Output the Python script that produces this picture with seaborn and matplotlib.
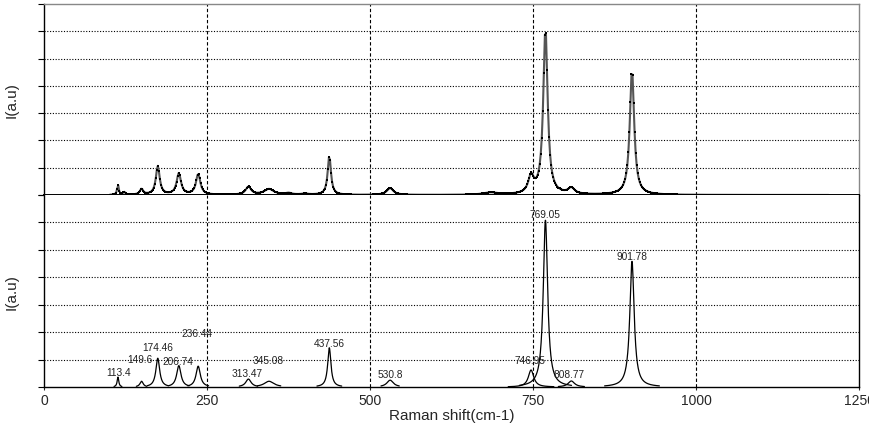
import numpy as np
import pandas as pd
import matplotlib
matplotlib.use("Agg")
import matplotlib.pyplot as plt
import seaborn as sns

# ---------------- data ----------------
peak_centers = [113.4, 149.6, 174.46, 206.74, 236.44, 313.47, 345.08,
                437.56, 530.8, 746.95, 769.05, 808.77, 901.78]
peak_heights = [0.36, 0.21, 1.05, 0.78, 0.76, 0.29, 0.21,
                1.43, 0.25, 0.62, 6.09, 0.22, 4.59]
peak_fwhm = [3, 6, 7, 8, 8, 10, 18, 6, 12, 10, 8, 12, 8]
peak_halfwindow = [6, 8, 16, 16, 16, 14, 18, 19, 14, 35, 40, 20, 42]
peak_labels = ["113.4", "149.6", "174.46", "206.74", "236.44", "313.47", "345.08",
               "437.56", "530.8", "746.95", "769.05", "808.77", "901.78"]
label_x = [114, 147, 175, 205, 235, 312, 344, 437, 531, 746, 769, 805, 902]
label_y = [0.56, 1.03, 1.45, 0.96, 1.98, 0.51, 1.00, 1.62, 0.47, 1.00, 6.31, 0.47, 4.77]

# minor features only seen in the measured spectrum
extra_centers = [123.0, 375.0, 400.0, 685.0]
extra_heights = [0.10, 0.06, 0.04, 0.08]
extra_fwhm = [4, 12, 12, 25]

spectrum_start, spectrum_end, spectrum_step = 101.0, 1204.0, 1.6

x_ticks = [0, 250, 500, 750, 1000, 1250]
x_label = "Raman shift(cm-1)"
y_label = "I(a.u)"


def lorentz(x, c, h, w):
    g = w / 2.0
    return h * g * g / ((x - c) ** 2 + g * g)


# ---------------- figure ----------------
sns.set_style("white")
plt.rcParams["font.family"] = ["Liberation Sans", "DejaVu Sans"]

fig = plt.figure(figsize=(8.7, 4.27), dpi=100)
ax1 = fig.add_axes([0.0506, 0.5410, 0.9368, 0.4473])
ax2 = fig.add_axes([0.0506, 0.0913, 0.9368, 0.4497])

# measured spectrum (top)
xs = np.arange(spectrum_start, spectrum_end, spectrum_step)
ys = np.zeros_like(xs)
for c, h, w in zip(peak_centers, peak_heights, peak_fwhm):
    ys += lorentz(xs, c, h, w)
for c, h, w in zip(extra_centers, extra_heights, extra_fwhm):
    ys += lorentz(xs, c, h, w)
df_top = pd.DataFrame({"x": xs, "y": ys})
sns.lineplot(data=df_top, x="x", y="y", ax=ax1, color="#555555", lw=1.5, clip_on=False)
sns.scatterplot(data=df_top, x="x", y="y", ax=ax1, color="black", marker="s",
                s=3.5, linewidth=0, clip_on=False, zorder=3)

# fitted components (bottom)
for c, h, w, hw in zip(peak_centers, peak_heights, peak_fwhm, peak_halfwindow):
    px = np.linspace(c - hw, c + hw, 200)
    py = lorentz(px, c, h, w)
    sns.lineplot(x=px, y=py, ax=ax2, color="black", lw=0.9)

for t, lx, ly in zip(peak_labels, label_x, label_y):
    ax2.text(lx, ly, t, ha="center", va="center", fontsize=7.3, color="#222222")

for ax in (ax1, ax2):
    ax.set_xlim(0, 1250)
    ax.set_ylim(0, 7)
    ax.set_yticks(range(0, 8))
    ax.set_yticklabels([])
    for v in range(1, 7):
        ax.axhline(v, color="black", lw=0.8, ls=(0, (1, 1.5)), zorder=0)
    for v in x_ticks[1:-1]:
        ax.axvline(v, color="black", lw=0.8, ls=(0, (3, 2)), zorder=0)
    ax.tick_params(axis="y", direction="out", length=4, width=0.8, color="black", left=True)
    ax.set_ylabel(y_label, fontsize=11)
    ax.yaxis.set_label_coords(-0.031, 0.5)
    ax.set_xlabel("")
    ax.spines["left"].set_color("black")
    ax.spines["bottom"].set_color("black")
    ax.spines["right"].set_color("#888888")
    ax.spines["top"].set_color("#888888")
    for s in ax.spines.values():
        s.set_linewidth(1.0)
        s.set_visible(True)

ax1.set_xticks(x_ticks)
ax1.set_xticklabels([])
ax1.tick_params(axis="x", length=0)
ax1.spines["bottom"].set_linewidth(1.4)
ax2.spines["top"].set_visible(False)
ax2.spines["right"].set_color("black")

ax2.set_xticks(x_ticks)
ax2.set_xticklabels([str(v) for v in x_ticks], fontsize=10)
ax2.tick_params(axis="x", length=2, pad=2, bottom=True)
ax2.set_xlabel(x_label, fontsize=11, labelpad=1)

fig.savefig("out.png", dpi=100)
